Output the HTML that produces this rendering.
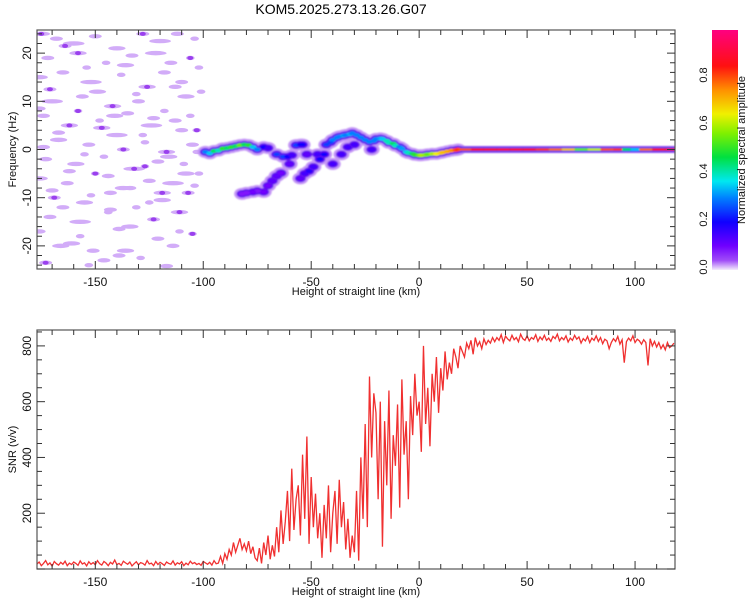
<!DOCTYPE html>
<html><head><meta charset="utf-8"><style>
body{margin:0;background:#fff;}
svg{display:block;font-family:"Liberation Sans",sans-serif;}
</style></head><body>
<svg id="svg" width="750" height="600" viewBox="0 0 750 600">
<defs>
<linearGradient id="cbar" x1="0" y1="1" x2="0" y2="0">
<stop offset="0" stop-color="#f4ecfc"/><stop offset="0.04" stop-color="#a04cf8"/><stop offset="0.1" stop-color="#7000ff"/>
<stop offset="0.2" stop-color="#1000ff"/><stop offset="0.3" stop-color="#0080ff"/><stop offset="0.37" stop-color="#00e8f0"/>
<stop offset="0.47" stop-color="#00e040"/><stop offset="0.57" stop-color="#80f000"/><stop offset="0.65" stop-color="#f0f000"/>
<stop offset="0.75" stop-color="#ff9000"/><stop offset="0.85" stop-color="#ff1010"/><stop offset="1" stop-color="#ff0080"/>
</linearGradient>
<filter id="blur" x="-50%" y="-50%" width="200%" height="200%"><feGaussianBlur stdDeviation="0.9"/></filter>
<clipPath id="clipTop"><rect x="37" y="30" width="638" height="239"/></clipPath>
<clipPath id="clipBot"><rect x="37" y="330" width="638" height="239"/></clipPath>
</defs>
<text x="341" y="14" font-size="14" text-anchor="middle" fill="#000">KOM5.2025.273.13.26.G07</text>
<g id="topPlot" clip-path="url(#clipTop)"></g>
<g id="topAxes"></g>
<g id="cb"></g>
<g id="botPlot" clip-path="url(#clipBot)"></g>
<g id="botAxes"></g>
</svg>
<script>
// ---- data ----
const xDomain = [-177, 118.5];
const freqDomain = [-24.8, 24.8];
const snrDomain = [0, 857];
const xTicks = [-150, -100, -50, 0, 50, 100];
const freqTicks = [-20, -10, 0, 10, 20];
const snrTicks = [200, 400, 600, 800];
const cbTicks = [0.0, 0.2, 0.4, 0.6, 0.8];
// noise blobs [km, Hz, half-width km]
const noiseKm = [-175,-168,-160,-150,-140,-128,-120,-112,-104,-172,-158,-145,-133,-122,-115,-106,-176,-165,-152,-138,-126,-110,-101,-170,-156,-142,-130,-118,-108,-174,-162,-148,-135,-124,-113,-103,-167,-153,-140,-127,-117,-105,-173,-159,-146,-132,-121,-109,-176,-163,-150,-137,-125,-114,-102,-169,-155,-143,-131,-119,-107,-171,-157,-144,-134,-123,-111,-166,-151,-139,
-164,-154,-136,-118,-102,-171,-149,-131,-113,-176,-158,-141,-123,-106,-167,-147,-128,-110,-174,-155,-137,-116,-103,-162,-144,-127,-108,-170,-152,-134,-119,-104,-165,-143,-125,-111,-176,-157,-139,-121,-105,-161,-146,-129,-114,-173,-153,-136,-117,-101];
const noiseHz = [24,23,22,23.5,21,24,22.5,24,23,19,20,18,19.5,20,18,19,15,16,14,15.5,13,14,12,10,11,9,10,8,11,7,5,6,7.5,5,6,4,2,1,3,1.5,-0.5,1,-2,-3,-1.5,-4,-2.5,-3,-6,-7,-5,-8,-6.5,-7,-5,-10,-11,-9,-12,-10.5,-9,-14,-15,-13,-16,-14.5,-17,-20,-21,-22,
21.5,17,17.5,16,17,12.5,12,11.5,13,8.5,8,7,6.5,7,3.5,4.5,3,4,0.5,-1,0,-1.5,-0.5,-4.5,-5.5,-3.5,-5,-8.5,-9.5,-8,-9,-7.5,-12,-12.5,-11,-13,-17,-18,-16.5,-18.5,-17.5,-19.5,-23,-22.5,-20,-23.5,-24,-21,-24.2,-22.8];
const noiseW = [4,3,5,3,4,3,5,3,2,3,4,2,3,5,3,2,4,3,5,2,4,3,2,5,3,4,3,2,4,3,4,2,3,5,3,2,4,3,5,2,4,3,3,4,2,5,3,2,4,3,2,4,3,5,2,3,4,3,2,4,3,3,5,2,4,3,2,4,3,3,
3,2,4,3,2,3,4,2,3,3,2,4,3,2,3,4,2,3,3,2,3,4,2,3,3,2,4,3,2,3,4,2,3,3,2,4,3,2,3,3,2,4,3,2,3,3,2,4,3];
// signal trace points
const sigKm = [-99,-97,-95,-93,-91,-89,-87,-85,-83,-81,-79,-77,-75,-72,-70,-66,-63,-61,-59,-57,-55,-54,-64,-66,-68,-70,-72,-75,-77,-80,-82,-49,-51,-53,-55,-46,-44,-43,-41,-40,-38,-37,-35,-34,-32,-31,-29,-27,-25,-23,-21,-20,-18,-17,-15,-14,-12,-11,-9,-8,-6,-5,-3,-2,0,1,3,4,6,8,10,11,13,15,17,18,-47,-40,-30,-22,-33,-36,-60,-52];
const sigHz = [-0.5,-0.8,-0.3,-0.2,0.2,0.3,0.5,0.7,0.9,1,0.9,0.5,0,0.5,0.3,-1,-1.5,-1.5,-1.2,0.9,1,1,-4.9,-5.5,-6.5,-7.5,-8.8,-8.6,-8.8,-9,-9.2,-3.6,-4.5,-5,-6,-2,-1,1,1.5,2,2.5,2.7,2.9,3,3.2,3.4,3,2.5,2,1.6,1.8,2.2,2.3,2.2,1.8,1.4,1.2,0.8,0.5,0.2,-0.5,-0.7,-0.9,-1.1,-1.2,-1.2,-1.1,-1,-0.9,-0.9,-0.7,-0.6,-0.4,-0.2,-0.1,0,-1,-3,1,0,0.5,-1,-3,-1];
const sigAmp = [0.3,0.35,0.45,0.4,0.5,0.45,0.5,0.45,0.55,0.45,0.5,0.35,0.3,0.2,0.15,0.25,0.25,0.2,0.15,0.25,0.2,0.2,0.1,0.12,0.12,0.1,0.1,0.08,0.1,0.08,0.08,0.15,0.18,0.15,0.12,0.2,0.2,0.25,0.25,0.3,0.3,0.3,0.32,0.3,0.33,0.3,0.3,0.3,0.3,0.3,0.3,0.3,0.32,0.35,0.4,0.4,0.45,0.4,0.3,0.32,0.35,0.4,0.45,0.5,0.55,0.6,0.58,0.55,0.6,0.65,0.68,0.7,0.72,0.75,0.8,0.82,0.15,0.15,0.15,0.15,0.15,0.15,0.12,0.12];
// steady tail (0 Hz) amplitudes
const tailKm = [18,24,30,36,42,48,54,60,66,72,78,84,90,94,98,102,108,114,119];
const tailAmp = [0.8,0.85,0.86,0.88,0.87,0.86,0.82,0.78,0.7,0.55,0.62,0.8,0.82,0.45,0.35,0.78,0.85,0.86,0.84];
// SNR series, 1 km step starting at snrStart
const snrStart = -177;
const snrValues = [18,25,12,20,30,15,22,10,27,19,14,24,17,28,12,21,16,25,20,13,29,18,22,11,26,17,23,15,30,19,14,27,21,12,24,18,32,16,20,13,28,22,17,25,11,19,26,15,23,20,14,30,18,21,12,27,16,24,19,13,25,20,17,29,14,22,18,26,12,21,15,28,19,23,16,20,13,27,22,17,24,14,30,19,21,
45,20,55,35,70,50,95,60,85,110,70,90,65,100,55,80,40,
30,75,20,95,50,120,35,85,45,150,
60,210,90,170,280,100,360,140,250,300,120,410,180,475,90,330,150,270,110,200,
40,230,110,300,60,200,280,90,320,150,240,70,180,40,120,
60,280,30,400,180,520,150,690,400,630,
560,250,600,80,530,300,640,180,480,370,590,220,680,410,530,250,620,480,700,550,
600,420,800,520,650,440,700,600,760,560,720,640,780,680,740,700,790,760,720,800,
780,760,810,790,820,770,830,800,815,790,825,805,820,810,830,
815,830,820,840,812,835,825,818,838,822,830,815,842,826,820,836,818,830,824,840,816,832,822,838,820,828,816,834,826,842,818,830,822,836,814,828,820,838,824,832,
810,826,818,834,812,828,820,836,816,830,808,824,818,790,812,826,816,834,806,822,740,815,828,818,836,812,824,818,806,822,812,730,826,800,816,796,812,790,804,786,812,794,800,810];

// ---- scales ----
const T = {l:37,r:675,t:30,b:269};
const B = {l:37,r:675,t:330,b:569};
const sx = (v,P)=>P.l+(v-xDomain[0])/(xDomain[1]-xDomain[0])*(P.r-P.l);
const syF = v=>T.b-(v-freqDomain[0])/(freqDomain[1]-freqDomain[0])*(T.b-T.t);
const syS = v=>B.b-(v-snrDomain[0])/(snrDomain[1]-snrDomain[0])*(B.b-B.t);
const NS='http://www.w3.org/2000/svg';
function mk(tag,attrs,parent){const e=document.createElementNS(NS,tag);for(const k in attrs)e.setAttribute(k,attrs[k]);parent.appendChild(e);return e;}
const stops=[[0,[244,236,252]],[0.04,[160,76,248]],[0.1,[112,0,255]],[0.2,[16,0,255]],[0.3,[0,128,255]],[0.37,[0,232,240]],[0.47,[0,224,64]],[0.57,[128,240,0]],[0.65,[240,240,0]],[0.75,[255,144,0]],[0.85,[255,16,16]],[1,[255,0,128]]];
function cmap(a){for(let i=1;i<stops.length;i++){if(a<=stops[i][0]){const[p0,c0]=stops[i-1],[p1,c1]=stops[i];const f=(a-p0)/(p1-p0);return 'rgb('+c0.map((c,j)=>Math.round(c+(c1[j]-c)*f)).join(',')+')';}}return 'rgb(255,0,128)';}

// ---- spectrogram ----
const topG=document.getElementById('topPlot');
const pxKm=(T.r-T.l)/(xDomain[1]-xDomain[0]);
for(let i=0;i<noiseKm.length;i++){
  const e=mk('ellipse',{cx:sx(noiseKm[i],T),cy:syF(noiseHz[i]),rx:noiseW[i]*pxKm,ry:2.2,fill:'#d2acf8'},topG);
  
  
  if(i%5===0){const d=mk('ellipse',{cx:sx(noiseKm[i],T),cy:syF(noiseHz[i]),rx:3,ry:2,fill:'#9a40ee'},topG);
  
  }
}
const g=mk('g',{filter:'url(#blur)'},topG);
for(let i=0;i<sigKm.length;i++){
  const cx=sx(sigKm[i],T),cy=syF(sigHz[i]);
  const h=mk('ellipse',{cx:cx,cy:cy,rx:8,ry:6,fill:'#c496f6'},g);
  
  
}
// tail halo
let td='';
tailKm.forEach((k,i)=>{td+=(i?'L':'M')+sx(k,T)+','+syF(0);});
const th=mk('path',{d:td,stroke:'#9850f0','stroke-width':7,fill:'none'},g);


for(let i=0;i<sigKm.length;i++){
  const cx=sx(sigKm[i],T),cy=syF(sigHz[i]);
  const m=mk('ellipse',{cx:cx,cy:cy,rx:5.5,ry:3.8,fill:'#6010f0'},g);
  
  
}
const tb=mk('path',{d:td,stroke:'#2040ff','stroke-width':4.5,fill:'none'},g);


for(let i=0;i<sigKm.length;i++){
  const cx=sx(sigKm[i],T),cy=syF(sigHz[i]);
  const c=mk('ellipse',{cx:cx,cy:cy,rx:3.5,ry:2,fill:cmap(sigAmp[i])},g);
  
  
}
for(let i=0;i<tailKm.length-1;i++){
  const s=mk('line',{x1:sx(tailKm[i],T),y1:syF(0),x2:sx(tailKm[i+1],T),y2:syF(0),stroke:cmap(tailAmp[i]),'stroke-width':2.5},g);
  
  
}

// ---- axes helper ----
function axes(P,xMinor,yTicksArr,yMinorStep,yDom,sy,ylabel,gid){
  const G=document.getElementById(gid);
  mk('rect',{x:P.l,y:P.t,width:P.r-P.l,height:P.b-P.t,fill:'none',stroke:'#555','stroke-width':1.2},G);
  for(let v=Math.ceil(xDomain[0]/xMinor)*xMinor;v<=xDomain[1];v+=xMinor){
    const x=sx(v,P),maj=v%50===0,L=maj?8:5;
    mk('line',{x1:x,y1:P.b,x2:x,y2:P.b-L,stroke:'#333'},G);
    mk('line',{x1:x,y1:P.t,x2:x,y2:P.t+L,stroke:'#333'},G);
  }
  for(const v of xTicks){const t=mk('text',{x:sx(v,P),y:P.b+17,'font-size':12,'text-anchor':'middle',fill:'#111'},G);t.textContent=v;
  
  }
  for(let v=Math.ceil(yDom[0]/yMinorStep)*yMinorStep;v<=yDom[1];v+=yMinorStep){
    const y=sy(v),maj=yTicksArr.includes(v)||v===0,L=maj?8:5;
    mk('line',{x1:P.l,y1:y,x2:P.l+L,y2:y,stroke:'#333'},G);
    mk('line',{x1:P.r,y1:y,x2:P.r-L,y2:y,stroke:'#333'},G);
  }
  for(const v of yTicksArr){const y=sy(v);const t=mk('text',{x:0,y:0,transform:'translate(31,'+y+') rotate(-90)','font-size':12,'text-anchor':'middle',fill:'#111'},G);t.textContent=v;
  
  }
  const xl=mk('text',{x:356,y:P.b+26,'font-size':11,'text-anchor':'middle',fill:'#111'},G);xl.textContent='Height of straight line (km)';
  
  
  const yl=mk('text',{x:0,y:0,transform:'translate(16,'+((P.t+P.b)/2)+') rotate(-90)','font-size':11,'text-anchor':'middle',fill:'#111'},G);yl.textContent=ylabel;
  
  
}
axes(T,10,freqTicks,2,freqDomain,syF,'Frequency (Hz)','topAxes');

// ---- colorbar ----
const cb=document.getElementById('cb');
mk('rect',{x:712,y:30,width:26,height:240,fill:'url(#cbar)'},cb);
const cby=v=>267-v*240;
for(const v of cbTicks){const t=mk('text',{x:0,y:0,transform:'translate(707,'+cby(v)+') rotate(-90)','font-size':11,'text-anchor':'middle',fill:'#111'},cb);t.textContent=v.toFixed(1);

}
const cl=mk('text',{x:0,y:0,transform:'translate(745,150) rotate(-90)','font-size':11,'text-anchor':'middle',fill:'#111'},cb);cl.textContent='Normalized spectral amplitude';



// ---- SNR ----
const botG=document.getElementById('botPlot');
let d='';
snrValues.forEach((v,i)=>{d+=(i?'L':'M')+sx(snrStart+i,B).toFixed(2)+','+syS(v).toFixed(2);});
const line=mk('path',{d:d,fill:'none',stroke:'#f03030','stroke-width':1.3},botG);


axes(B,10,snrTicks,50,snrDomain,syS,'SNR (v/v)','botAxes');
</script>
</body></html>
